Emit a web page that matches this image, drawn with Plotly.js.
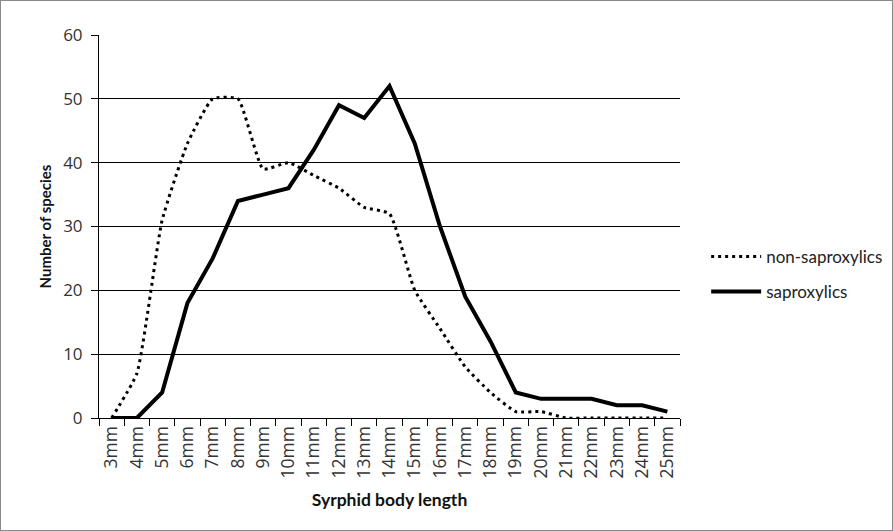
<!DOCTYPE html>
<html>
<head>
<meta charset="utf-8">
<script src="https://cdn.plot.ly/plotly-3.0.1.min.js"></script>
<style>
  html, body { margin: 0; padding: 0; background: #fff; }
  #wrap { position: relative; width: 893px; height: 531px; }
  #chart { width: 893px; height: 531px; }
  #frame { position: absolute; left: 0; top: 0; width: 893px; height: 531px; box-sizing: border-box; border: 1px solid #8a8a8a; pointer-events: none; }
</style>
</head>
<body>
<div id="wrap"><div id="chart"></div><div id="frame"></div></div>
<script>
const categories = ['3mm','4mm','5mm','6mm','7mm','8mm','9mm','10mm','11mm','12mm','13mm','14mm','15mm','16mm','17mm','18mm','19mm','20mm','21mm','22mm','23mm','24mm','25mm'];
const nonSaproxylics = [0,7,31,43,50,50,39,40,38,36,33,32,20,14,8,4,1,1,0,0,0,0,0];
const saproxylics = [0,0,4,18,25,34,35,36,42,49,47,52,43,30,19,12,4,3,3,3,2,2,1];
const yTicks = [0,10,20,30,40,50,60];

const textFont = 'Lato, "Open Sans", sans-serif';
const tickFontFamily = '"Open Sans", sans-serif';

const traces = [
  {
    x: categories, y: nonSaproxylics, name: 'non-saproxylics', type: 'scatter', mode: 'lines',
    line: { color: '#000', width: 3, dash: '3px,4px', shape: 'spline', smoothing: 0.45 },
    legendgroup: 'a'
  },
  {
    x: categories, y: saproxylics, name: 'saproxylics', type: 'scatter', mode: 'lines',
    line: { color: '#000', width: 4 },
    legendgroup: 'b'
  }
];

const layout = {
  width: 893, height: 531,
  margin: { l: 99, r: 213, t: 35, b: 113, autoexpand: false },
  paper_bgcolor: '#fff', plot_bgcolor: '#fff',
  font: { family: textFont, color: '#222', size: 15 },
  showlegend: true,
  legend: {
    x: 1.045, xanchor: 'left', y: 0.375, yanchor: 'middle',
    font: { family: textFont, size: 17, color: '#222' },
    itemwidth: 50,
    traceorder: 'grouped', tracegroupgap: 10,
    bgcolor: 'rgba(0,0,0,0)', borderwidth: 0
  },
  xaxis: {
    type: 'category', range: [-0.5, 22.5], automargin: false,
    tickmode: 'array', tickvals: categories, ticktext: categories,
    tickson: 'boundaries', ticks: 'outside', ticklen: 7, tickcolor: '#000', tickwidth: 1,
    tickangle: -90, tickfont: { family: tickFontFamily, size: 17.5, color: '#333' },
    showline: true, linecolor: '#000', linewidth: 1,
    showgrid: false, zeroline: false, fixedrange: true,
    title: { text: '<b>Syrphid body length</b>', font: { family: textFont, size: 17.5, color: '#111' }, standoff: 16 }
  },
  yaxis: {
    range: [0, 60], tickmode: 'array', tickvals: yTicks, ticktext: yTicks.map(String),
    automargin: false,
    ticks: 'outside', ticklen: 7, tickcolor: '#000', tickwidth: 1,
    tickfont: { family: tickFontFamily, size: 17, color: '#333' },
    ticklabelstandoff: 5,
    showline: true, linecolor: '#000', linewidth: 1,
    showgrid: true, gridcolor: '#000', gridwidth: 1,
    zeroline: false, fixedrange: true,
    title: { text: '<b>Number of species</b>', font: { family: textFont, size: 15, color: '#111' }, standoff: 7 }
  }
};

Plotly.newPlot('chart', traces, layout, { staticPlot: true, displayModeBar: false });
</script>
</body>
</html>
